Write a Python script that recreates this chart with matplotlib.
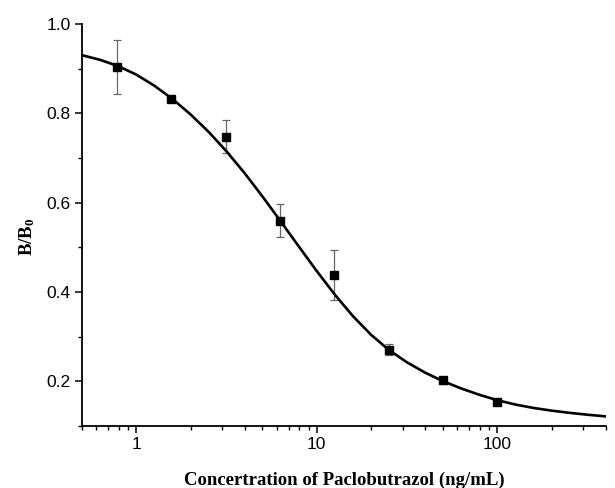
import numpy as np
import matplotlib
matplotlib.use("Agg")
import matplotlib.pyplot as plt
from matplotlib.ticker import FixedLocator, FuncFormatter, MultipleLocator, LogLocator, NullFormatter

# measured standards (mean B/B0 and error)
conc = [0.78125, 1.5625, 3.125, 6.25, 12.5, 25, 50, 100]
b_b0 = [0.903, 0.831, 0.748, 0.560, 0.438, 0.271, 0.202, 0.154]
b_err = [0.060, 0.006, 0.036, 0.038, 0.055, 0.013, 0.007, 0.005]

# fitted curve
fit_x = [0.5, 0.631, 0.794, 1.0, 1.259, 1.585, 1.995, 2.512, 3.162, 3.981, 5.012,
         6.310, 7.943, 10.0, 12.59, 15.85, 19.95, 25.12, 31.62, 39.81, 50.12, 63.10,
         79.43, 100.0, 125.9, 158.5, 199.5, 251.2, 316.2, 400.0]
fit_y = [0.930, 0.9195, 0.9055, 0.8865, 0.8617, 0.8320, 0.7977, 0.7587, 0.7147,
         0.6660, 0.6132, 0.5580, 0.5020, 0.4467, 0.3940, 0.3460, 0.3045, 0.2700,
         0.2425, 0.2195, 0.2003, 0.1841, 0.1700, 0.1578, 0.1481, 0.1405, 0.1345,
         0.1295, 0.1253, 0.1215]

plt.rcParams['mathtext.fontset'] = 'custom'
plt.rcParams['mathtext.bf'] = 'Liberation Serif:bold'
plt.rcParams['mathtext.rm'] = 'Liberation Serif:bold'

fig = plt.figure(figsize=(6.15, 4.88), dpi=100)
ax = fig.add_axes([0.1333, 0.127, 0.852, 0.824])

ax.plot(fit_x, fit_y, color='black', lw=1.9, zorder=2, solid_joinstyle='round')
ax.errorbar(conc, b_b0, yerr=b_err, fmt='none', ecolor='#666666', elinewidth=0.9,
            capsize=2.9, capthick=0.9, zorder=1)
ax.plot(conc, b_b0, 's', color='black', ms=6, zorder=3)

ax.set_xscale('log')
ax.set_xlim(0.5, 400)
ax.set_ylim(0.1, 1.0)

ax.xaxis.set_major_locator(FixedLocator([1, 10, 100]))
ax.xaxis.set_major_formatter(FuncFormatter(lambda v, p: '%g' % v))
ax.xaxis.set_minor_locator(LogLocator(base=10, subs=np.arange(2, 10)))
ax.xaxis.set_minor_formatter(NullFormatter())
ax.yaxis.set_major_locator(MultipleLocator(0.2))
ax.yaxis.set_minor_locator(MultipleLocator(0.1))
ax.yaxis.set_major_formatter(FuncFormatter(lambda v, p: '%.1f' % v))

for s in ['top', 'right']:
    ax.spines[s].set_visible(False)
for s in ['left', 'bottom']:
    ax.spines[s].set_linewidth(1.3)

ax.tick_params(which='major', direction='out', length=5, width=1.1, labelsize=12.5, pad=3)
ax.tick_params(which='minor', direction='out', length=3, width=1.0)
for lab in ax.get_xticklabels() + ax.get_yticklabels():
    lab.set_fontfamily('Liberation Sans')

ax.set_xlabel('Concertration of Paclobutrazol (ng/mL)', fontfamily='Liberation Serif',
              fontweight='bold', fontsize=13.5, labelpad=14)
ax.set_ylabel(r'$\mathbf{B/B_0}$', fontsize=13.5)
ax.yaxis.set_label_coords(-0.085, 0.47)

fig.savefig('out.png', dpi=100)
